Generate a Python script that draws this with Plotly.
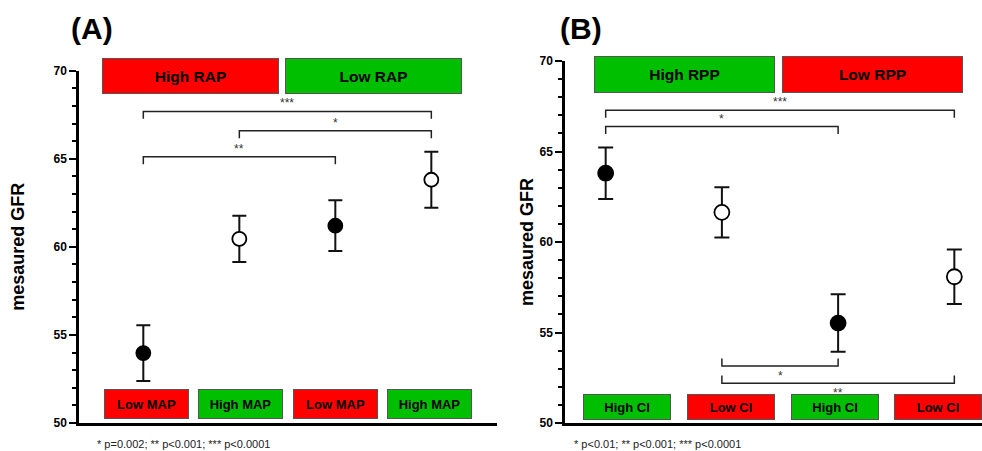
import plotly.graph_objects as go

# ---------------- data ----------------
a_categories = ["Low MAP", "High MAP", "Low MAP", "High MAP"]
a_mean = [53.97, 60.45, 61.2, 63.81]
a_sd = [1.58, 1.31, 1.44, 1.59]
a_filled = [True, False, True, False]
a_groups = ["High RAP", "Low RAP"]
a_group_colors = ["#FF0000", "#00BF00"]
a_cat_colors = ["#FF0000", "#00BF00", "#FF0000", "#00BF00"]
a_cmp_from = [1, 2, 1]
a_cmp_to = [4, 4, 3]
a_cmp_y = [67.69, 66.59, 65.11]
a_cmp_label = ["***", "*", "**"]
a_note = "* p=0.002; ** p<0.001; *** p<0.0001"

b_categories = ["High CI", "Low CI", "High CI", "Low CI"]
b_mean = [63.8, 61.64, 55.52, 58.08]
b_sd = [1.42, 1.39, 1.59, 1.51]
b_filled = [True, False, True, False]
b_groups = ["High RPP", "Low RPP"]
b_group_colors = ["#00BF00", "#FF0000"]
b_cat_colors = ["#00BF00", "#FF0000", "#00BF00", "#FF0000"]
b_cmp_from = [1, 1, 2, 2]
b_cmp_to = [4, 3, 3, 4]
b_cmp_y = [67.28, 66.38, 53.15, 52.20]
b_cmp_label = ["***", "*", "*", "**"]
b_cmp_down = [False, False, True, True]   # True: legs point up, label below
b_note = "* p<0.01; ** p<0.001; *** p<0.0001"

# ---------------- layout constants ----------------
FONT = "Arial, Liberation Sans, sans-serif"
a_group_x = [1.49, 3.40]
a_group_y = 69.70
a_box_x = [1.035, 2.015, 3.0, 3.98]
a_box_y = 51.09
b_group_x = [1.682, 3.294]
b_group_y = 69.28
b_box_x = [1.181, 2.077, 2.975, 3.857]
b_box_y = 50.9
LEG = 0.42

fig = go.Figure()


def add_panel(xa, ya, means, sds, filled, size, capw):
    xs = list(range(1, len(means) + 1))
    fig.add_trace(go.Scatter(
        x=xs, y=means, mode="markers", xaxis=xa, yaxis=ya, showlegend=False,
        error_y=dict(type="data", array=sds, visible=True, color="#111111",
                     thickness=2, width=capw),
        marker=dict(size=size, color=["#000000" if f else "#FFFFFF" for f in filled],
                    line=dict(color="#000000", width=1.8)),
        cliponaxis=False,
    ))


add_panel("x", "y", a_mean, a_sd, a_filled, 14, 7)
add_panel("x2", "y2", b_mean, b_sd, b_filled, 15, 7.5)

shapes = []
annotations = []


def brackets(xr, yr, f, t, ys, labels, down):
    for x0, x1, yv, lab, d in zip(f, t, ys, labels, down):
        leg = LEG if d else -LEG
        shapes.append(dict(type="path", xref=xr, yref=yr,
                           path=f"M {x0},{yv+leg} L {x0},{yv} L {x1},{yv} L {x1},{yv+leg}",
                           line=dict(color="#222222", width=1.5)))
        annotations.append(dict(xref=xr, yref=yr, x=(x0 + x1) / 2, y=yv, text=lab,
                                showarrow=False, xanchor="center",
                                yanchor="top" if d else "bottom",
                                yshift=-1,
                                font=dict(family=FONT, size=12, color="#333333")))


brackets("x", "y", a_cmp_from, a_cmp_to, a_cmp_y, a_cmp_label, [False] * 3)
brackets("x2", "y2", b_cmp_from, b_cmp_to, b_cmp_y, b_cmp_label, b_cmp_down)


def box(xr, yr, x, y, text, color, w, h, fs):
    annotations.append(dict(xref=xr, yref=yr, x=x, y=y, text=text, showarrow=False,
                            xanchor="center", yanchor="middle", width=w, height=h,
                            bgcolor=color, bordercolor="#555555", borderwidth=1,
                            borderpad=0,
                            font=dict(family=FONT, size=fs, color="#000000", weight="bold")))


for x, lab, c in zip(a_group_x, a_groups, a_group_colors):
    box("x", "y", x, a_group_y, lab, c, 175, 34, 15.5)
for x, lab, c in zip(a_box_x, a_categories, a_cat_colors):
    box("x", "y", x, a_box_y, lab, c, 83, 28, 13)
for x, lab, c in zip(b_group_x, b_groups, b_group_colors):
    box("x2", "y2", x, b_group_y, lab, c, 179, 35, 15.5)
for x, lab, c in zip(b_box_x, b_categories, b_cat_colors):
    box("x2", "y2", x, b_box_y, lab, c, 86, 24, 13)

# panel titles and footnotes
for x, t in [(-0.011, "(A)"), (0.531, "(B)")]:
    annotations.append(dict(xref="paper", yref="paper", x=x, y=1.091, text=t,
                            showarrow=False, xanchor="left", yanchor="middle",
                            font=dict(family=FONT, size=30, color="#000000", weight="bold")))
for x, t in [(0.0177, a_note), (0.5456, b_note)]:
    annotations.append(dict(xref="paper", yref="paper", x=x, y=-0.058, text=t,
                            showarrow=False, xanchor="left", yanchor="middle",
                            font=dict(family=FONT, size=11, color="#222222")))

yax = dict(range=[50, 70], dtick=5, tick0=50, ticks="outside", ticklen=7, tickwidth=2,
           tickcolor="#000000", showline=True, linewidth=2.5, linecolor="#000000",
           showgrid=False, zeroline=False,
           tickfont=dict(family=FONT, size=12, color="#000000", weight="bold"),
           minor=dict(dtick=1, ticks="outside", ticklen=4, tickwidth=2, tickcolor="#000000"),
           title=dict(text="mesaured GFR",
                      font=dict(family=FONT, size=18, color="#000000", weight="bold")))
xax = dict(showline=True, linewidth=2.5, linecolor="#000000", showgrid=False,
           zeroline=False, showticklabels=False, ticks="")

fig.update_layout(
    width=982, height=451,
    margin=dict(l=79, r=0, t=61, b=28),
    plot_bgcolor="white", paper_bgcolor="white",
    xaxis=dict(xax, domain=[0, 0.4629], range=[0.33, 4.684], anchor="y"),
    yaxis=dict(yax, domain=[0, 0.9732], anchor="x",
               title=dict(yax["title"], standoff=25)),
    xaxis2=dict(xax, domain=[0.5382, 1.0], range=[0.65, 4.238], anchor="y2"),
    yaxis2=dict(yax, domain=[0, 1.0], anchor="x2",
                title=dict(yax["title"], standoff=2)),
    shapes=shapes,
    annotations=annotations,
    showlegend=False,
)

fig.write_html("out.html", config={"displayModeBar": False},
               post_script="document.body.style.margin='0';document.body.style.overflow='hidden';")
